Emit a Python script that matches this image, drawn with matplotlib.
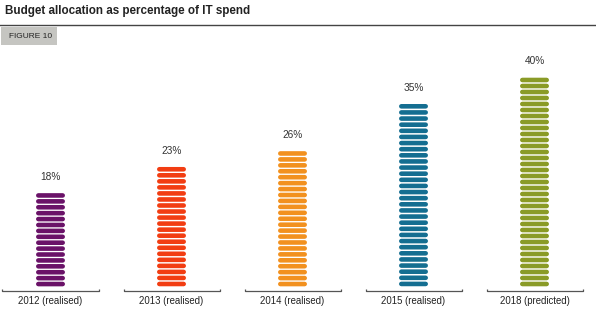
import matplotlib
matplotlib.use("Agg")
import matplotlib.pyplot as plt
from matplotlib.patches import Rectangle
from matplotlib.lines import Line2D

categories = ["2012 (realised)", "2013 (realised)", "2014 (realised)", "2015 (realised)", "2018 (predicted)"]
values = [18, 23, 26, 35, 40]
value_labels = ["18%", "23%", "26%", "35%", "40%"]
colors = ["#6a1268", "#f23d12", "#f2911f", "#146e91", "#8a9b27"]
title = "Budget allocation as percentage of IT spend"
figure_label = "FIGURE 10"

plt.rcParams['font.family'] = ["Liberation Sans", "DejaVu Sans"]

W, H = 596, 323
fig = plt.figure(figsize=(W / 100, H / 100), dpi=100)

# axes: baseline at y=287px, top at 60px
base_px, top_px = 287, 60
ax = fig.add_axes([0, (H - base_px) / H, 1, (base_px - top_px) / H])
ax.axis("off")
px_per_pct = 5.25
ax.set_ylim(0, (base_px - top_px) / px_per_pct)
c0, step = 50.5, 121
ax.set_xlim(-c0 / step, (W - c0) / step)
ux = step  # px per x unit
uy = px_per_pct  # px per y unit

pitch = 1.15  # percent per stripe
bar_w_px = 29
lw_px = 4.6
half = (bar_w_px / 2 - lw_px / 2) / ux

for i, (v, col) in enumerate(zip(values, colors)):
    n = int(round(v / pitch))
    p = v / n
    for k in range(n):
        y = p * (k + 0.5)
        ax.plot([i - half, i + half], [y, y], color=col, lw=lw_px * 72 / 100,
                solid_capstyle="round", zorder=3, snap=False)
    ax.text(i, v + 15.5 / uy, value_labels[i], ha="center", va="center",
            fontsize=7.3, color="#333333")
    # bracket
    bh = 48 / ux
    yb = -4 / uy
    yt = -1.5 / uy
    ax.plot([i - bh, i - bh, i + bh, i + bh], [yt, yb, yb, yt], color="#555555",
            lw=0.9, clip_on=False, solid_capstyle="butt")
    ax.text(i, -14 / uy, categories[i], ha="center", va="center", fontsize=6.9,
            color="#222222", clip_on=False)

# title and header
fig.text(5 / W, 1 - 11 / H, title, ha="left", va="center", fontsize=8.4,
         fontweight="bold", color="#222222")
fig.add_artist(Line2D([0, 1], [1 - 24.5 / H, 1 - 24.5 / H], color="#444444", lw=1.0))
fig.add_artist(Rectangle((1 / W, 1 - 45 / H), 56 / W, 18 / H, facecolor="#c5c5c1",
                         edgecolor="none"))
fig.text(9 / W, 1 - 36 / H, figure_label, ha="left", va="center", fontsize=6,
         color="#222222")

fig.savefig("out.png", dpi=100)
